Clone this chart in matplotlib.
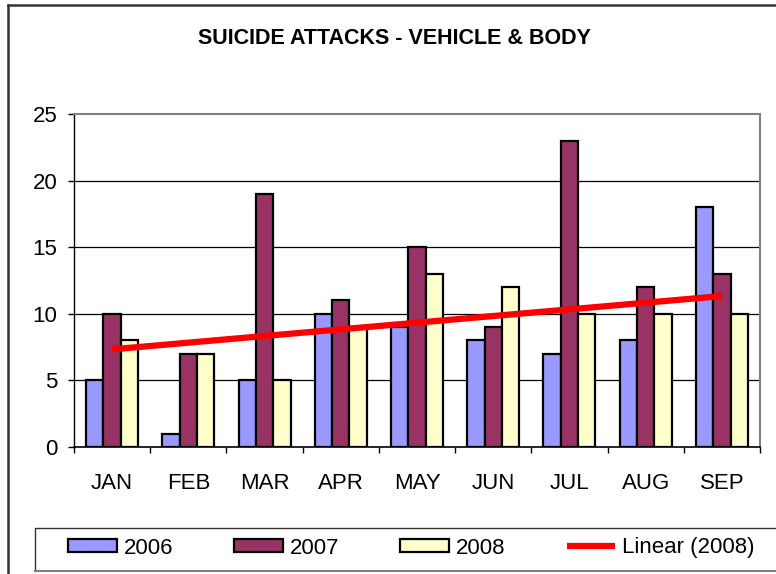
import matplotlib
matplotlib.use("Agg")
import matplotlib.pyplot as plt
import numpy as np
from matplotlib.lines import Line2D

months = ["JAN", "FEB", "MAR", "APR", "MAY", "JUN", "JUL", "AUG", "SEP"]
y2006 = [5, 1, 5, 10, 9, 8, 7, 8, 18]
y2007 = [10, 7, 19, 11, 15, 9, 23, 12, 13]
y2008 = [8, 7, 5, 9, 13, 12, 10, 10, 10]
yticks = [0, 5, 10, 15, 20, 25]
title = "SUICIDE ATTACKS - VEHICLE & BODY"

plt.rcParams['font.family'] = ['Liberation Sans', 'DejaVu Sans']

W, H = 776, 574
fig = plt.figure(figsize=(W / 100, H / 100), dpi=100)
ax = fig.add_axes([74 / W, 1 - 447 / H, 686 / W, 333 / H])

x = np.arange(len(months))
bw = 0.227
cols = ["#9999FF", "#993366", "#FFFFCC"]
labels = ["2006", "2007", "2008"]
for i, (vals, c, lab) in enumerate(zip([y2006, y2007, y2008], cols, labels)):
    ax.bar(x + (i - 1) * bw, vals, width=bw, color=c, edgecolor="black",
           linewidth=1.6, label=lab, zorder=3)

# linear trendline for 2008
k, b = np.polyfit(x + 1, y2008, 1)
trend = k * (x + 1) + b
ax.plot(x, trend, color="#FF0000", linewidth=4.5, solid_capstyle="butt", zorder=4,
        label="Linear (2008)")

ax.set_xlim(-0.5, len(months) - 0.5)
ax.set_ylim(0, 25)
ax.set_yticks(yticks)
ax.set_yticklabels([str(t) for t in yticks], fontsize=16)
ax.set_xticks(x)
ax.set_xticklabels(months, fontsize=16)
ax.set_xticks(np.arange(-0.5, len(months), 1), minor=True)
ax.tick_params(axis="x", which="major", length=0, pad=19)
ax.tick_params(axis="x", which="minor", length=4, width=1, direction="out", color="black")
ax.tick_params(axis="y", length=4, width=1, direction="out", pad=8, color="black")

for t in [5, 10, 15, 20]:
    ax.axhline(t, color="black", linewidth=0.9, zorder=1)

ax.spines["top"].set_color("#808080")
ax.spines["right"].set_color("#808080")
ax.spines["top"].set_linewidth(1.5)
ax.spines["right"].set_linewidth(1.5)
ax.spines["left"].set_color("black")
ax.spines["bottom"].set_color("black")
ax.spines["left"].set_linewidth(1)
ax.spines["bottom"].set_linewidth(1.2)

fig.text(395 / W, 1 - 38 / H, title, ha="center", va="center", fontsize=15.5,
         fontweight="bold")

# outer chart border (extends beyond the image on right and bottom)
fig.add_artist(Line2D([8 / W, 8 / W], [0, 1 - 5 / H], color="#333333", linewidth=1.8,
                      transform=fig.transFigure))
fig.add_artist(Line2D([8 / W, 1], [1 - 5 / H, 1 - 5 / H], color="#333333", linewidth=1.8,
                      transform=fig.transFigure))

# legend box
fig.add_artist(Line2D([35 / W, 35 / W, 1], [1 - 571 / H, 1 - 528 / H, 1 - 528 / H],
                      color="#333333", linewidth=1.0, transform=fig.transFigure))
fig.add_artist(Line2D([35 / W, 1], [1 - 571 / H, 1 - 571 / H],
                      color="#808080", linewidth=1.5, transform=fig.transFigure))

handles, labs = ax.get_legend_handles_labels()
order = [1, 2, 3, 0]
leg = fig.legend([handles[i] for i in order], [labs[i] for i in order],
                 loc="center left", bbox_to_anchor=(68 / W, 1 - 548 / H), ncol=4,
                 frameon=False, fontsize=16, handlelength=2.2, handleheight=0.5,
                 handletextpad=0.3, columnspacing=2.75, borderpad=0, borderaxespad=0)

fig.savefig("out.png", dpi=100)
